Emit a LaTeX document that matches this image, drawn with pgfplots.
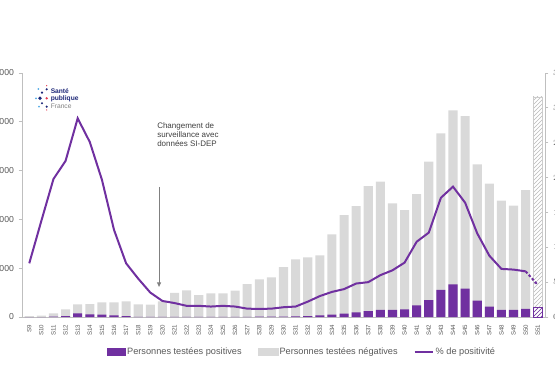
\documentclass[border=0pt]{standalone}
\usepackage{fontspec}
\setmainfont{Liberation Sans}
\usepackage{pgfplots}
\usepackage{pgfplotstable}
\pgfplotsset{compat=1.18}
\usetikzlibrary{patterns,arrows.meta}
\definecolor{pur}{RGB}{112,48,160}
\definecolor{lgray}{RGB}{217,217,217}
\definecolor{axgray}{RGB}{191,191,191}
\definecolor{txt}{RGB}{89,89,89}
\definecolor{lblue}{RGB}{80,170,230}
\definecolor{navy}{RGB}{30,40,120}
\definecolor{lred}{RGB}{230,60,80}

\pgfplotstableread{
x tot pos pct
0 10000 0 7.7
1 15000 0 13.8
2 38000 3000 19.8
3 79000 8000 22.4
4 130000 38000 28.5
5 133000 28000 25.1
6 150000 24000 19.7
7 150000 17000 12.5
8 161000 10000 7.7
9 130000 2000 5.5
10 126000 2000 3.5
11 161000 2000 2.3
12 246000 2000 2.0
13 274000 2000 1.6
14 225000 2000 1.6
15 243000 2000 1.5
16 243000 2000 1.6
17 270000 2000 1.5
18 338000 2000 1.2
19 386000 3000 1.15
20 407000 3000 1.2
21 512000 4000 1.4
22 591000 7000 1.5
23 612000 10000 2.2
24 632000 17000 3.0
25 847000 24000 3.6
26 1045000 34000 4.0
27 1137000 48000 4.8
28 1342000 61000 5.0
29 1386000 72000 6.0
30 1165000 72000 6.7
31 1096000 79000 7.8
32 1260000 120000 10.8
33 1591000 174000 12.1
34 1882000 277000 17.1
35 2118000 335000 18.7
36 2059000 290000 16.4
37 1565000 167000 12.0
38 1366000 106000 8.8
39 1192000 72000 6.9
40 1140000 72000 6.8
41 1301000 82000 6.55
42 2257000 99000 4.6
}\data

\begin{document}
\begin{tikzpicture}
\begin{axis}[
  scale only axis, width=392.25pt, height=183pt,
  xmin=-0.6, xmax=42.6, ymin=0, ymax=2500000,
  axis x line*=bottom, axis y line*=left,
  axis line style={axgray, line width=0.6pt},
  xtick={0,...,42},
  xticklabels={S9,S10,S11,S12,S13,S14,S15,S16,S17,S18,S19,S20,S21,S22,S23,S24,S25,S26,S27,S28,S29,S30,S31,S32,S33,S34,S35,S36,S37,S38,S39,S40,S41,S42,S43,S44,S45,S46,S47,S48,S49,S50,S51},
  x tick label style={rotate=90, anchor=east, font=\fontsize{4.6}{5}\selectfont, text=txt},
  x tick style={draw=none},
  ytick={0,500000,1000000,1500000,2000000,2500000},
  scaled y ticks=false,
  y tick label style={font=\fontsize{6.5}{7}\selectfont, text=txt},
  yticklabel style={/pgf/number format/fixed, /pgf/number format/precision=0, /pgf/number format/1000 sep={\ }, /pgf/number format/assume math mode=true},
  y tick style={axgray, line width=0.6pt}, tick align=outside, major tick length=2.5pt,
  ybar, bar width=0.75, bar shift=0pt,
  legend columns=3,
  legend style={at={(0.535,-0.143)}, anchor=center, draw=none, fill=none,
    font=\fontsize{6.9}{8}\selectfont, text=txt,
    nodes={inner xsep=1pt},
    /tikz/every odd column/.append style={column sep=0pt},
    /tikz/every even column/.append style={column sep=11pt}},
  legend cell align=left,
]
\addlegendimage{legend image code/.code={\fill[pur] (0pt,-2.6pt) rectangle (13.5pt,2.6pt);}}
\addlegendentry{Personnes testées positives}
\addlegendimage{legend image code/.code={\fill[lgray] (0pt,-2.6pt) rectangle (15pt,2.6pt);}}
\addlegendentry{Personnes testées négatives}
\addlegendimage{legend image code/.code={\draw[pur, line width=1.5pt] (0pt,0pt) -- (14pt,0pt);}}
\addlegendentry{\% de positivité}

\addplot[fill=lgray, draw=none, forget plot, restrict x to domain=0:41] table[x=x, y=tot] {\data};
\addplot[fill=pur, draw=none, forget plot, restrict x to domain=0:41] table[x=x, y=pos] {\data};
\addplot[pattern=north east lines, pattern color=gray!55, draw=gray!40, line width=0.3pt, forget plot] coordinates {(42,2257000)};
\addplot[pattern=north east lines, pattern color=pur, draw=pur, line width=0.5pt, forget plot] coordinates {(42,99000)};

\node[anchor=north west, align=left, font=\fontsize{6}{6.75}\selectfont, text=black!75, inner sep=0pt] at (axis cs:10.55,1990000) {Changement de\\surveillance avec\\données SI-DEP};
\draw[-{Triangle[length=3.5pt,width=3pt]}, gray, line width=0.8pt] (axis cs:10.72,1332000) -- (axis cs:10.72,307000);
\end{axis}

\begin{axis}[
  scale only axis, width=392.25pt, height=183pt,
  xmin=-0.6, xmax=42.6, ymin=0, ymax=35,
  axis y line*=right, axis x line=none,
  axis line style={axgray, line width=0.6pt},
  ytick={0,5,...,35},
  y tick label style={font=\fontsize{6.5}{7}\selectfont, text=txt},
  y tick style={axgray, line width=0.6pt}, tick align=outside, major tick length=2.5pt,
]
\addplot[pur, line width=1.5pt, mark=none, restrict x to domain=0:41] table[x=x, y=pct] {\data};
\addplot[pur, line width=1.5pt, mark=none, dash pattern=on 2pt off 1.5pt] table[x=x, y=pct, restrict x to domain=41:42] {\data};
\end{axis}

\begin{scope}[x=0.75pt, y=-0.75pt, shift={(-22,-317)}]
  \fill[lblue] (38.3,89) circle (1);
  \fill[navy] (42,92.7) circle (1.2);
  \fill[navy] (46.7,89.3) circle (1.2);
  \fill[lred] (46.7,85.7) circle (0.7);
  \fill[lblue] (36,98.3) circle (1);
  \fill[navy] (40,98.3) circle (1.8);
  \fill[lred] (46.7,98.3) circle (1.3);
  \fill[navy] (42,103.3) circle (1.2);
  \fill[lblue] (39,106.7) circle (1);
  \fill[navy] (46.7,106.7) circle (1.2);
  \fill[lred] (46.7,110) circle (0.7);
  \node[anchor=west, inner sep=0pt, font=\fontsize{5}{5}\bfseries, text=navy] at (50.5,91) {Santé};
  \node[anchor=west, inner sep=0pt, font=\fontsize{5}{5}\bfseries, text=navy] at (50.5,98.3) {publique};
  \node[anchor=west, inner sep=0pt, font=\fontsize{5}{5}\selectfont, text=gray] at (50.5,105.8) {France};
\end{scope}

\pgfresetboundingbox
\begin{scope}[x=0.75pt, y=-0.75pt, shift={(-22,-317)}]
  \path[use as bounding box] (0,0) rectangle (555,370);
\end{scope}
\end{tikzpicture}
\end{document}
